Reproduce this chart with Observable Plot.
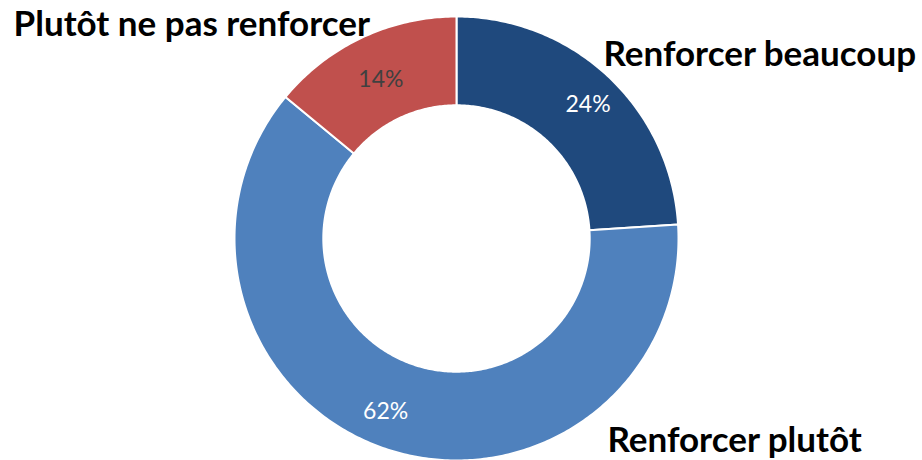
<!DOCTYPE html>
<html>
<head>
<meta charset="utf-8">
<script src="https://cdn.jsdelivr.net/npm/d3@7"></script>
<script src="https://cdn.jsdelivr.net/npm/@observablehq/plot@0.6"></script>
<style>
  html, body { margin: 0; padding: 0; background: #fff; }
  #chart svg { display: block; }
</style>
</head>
<body>
<div id="chart"></div>
<script>
// ---- data ----
const categories = ["Renforcer beaucoup", "Renforcer plutôt", "Plutôt ne pas renforcer"];
const shares = [24, 62, 14];
const pctLabels = ["24%", "62%", "14%"];
const colors = ["#1F497D", "#4F81BD", "#C0504D"];
const pctColors = ["#ffffff", "#ffffff", "#404040"];
// category label anchor positions (in radius units, relative to centre)
const labelX = [0.662, 0.680, -1.995];
const labelY = [0.826, -0.910, 0.964];
// small pixel nudges of the percentage labels
const pctDx = [10, -16, 0];
const pctDy = [-4, 4, 2];

// ---- layout ----
const W = 922, H = 460;
const CX = 456, CY = 238, R = 222;
const INNER = 0.60;

// ---- geometry built from data ----
const total = d3.sum(shares);
const pts = [];
const mids = [];
let acc = 0;
categories.forEach((cat, i) => {
  const a0 = acc / total * 2 * Math.PI;
  acc += shares[i];
  const a1 = acc / total * 2 * Math.PI;
  const n = Math.max(8, Math.round((a1 - a0) * 80));
  const ring = [];
  for (let k = 0; k <= n; k++) {
    const a = a0 + (a1 - a0) * k / n;
    ring.push({cat, x: Math.sin(a), y: Math.cos(a)});
  }
  for (let k = n; k >= 0; k--) {
    const a = a0 + (a1 - a0) * k / n;
    ring.push({cat, x: INNER * Math.sin(a), y: INNER * Math.cos(a)});
  }
  ring.push({...ring[0]});
  pts.push(...ring);
  const am = (a0 + a1) / 2, rm = (1 + INNER) / 2;
  mids.push({cat, label: pctLabels[i], color: pctColors[i],
    x: rm * Math.sin(am) + pctDx[i] / R, y: rm * Math.cos(am) - pctDy[i] / R});
});
const catLabels = categories.map((c, i) => ({cat: c, x: labelX[i], y: labelY[i]}));

const chart = Plot.plot({
  width: W,
  height: H,
  marginLeft: CX - R,
  marginRight: W - (CX + R),
  marginTop: CY - R,
  marginBottom: H - (CY + R),
  x: {domain: [-1, 1], axis: null},
  y: {domain: [-1, 1], axis: null},
  color: {domain: categories, range: colors},
  style: {fontFamily: "Lato, sans-serif", background: "#fff"},
  marks: [
    Plot.line(pts, {x: "x", y: "y", z: "cat", fill: "cat", stroke: "#ffffff", strokeWidth: 2, curve: "linear", strokeLinejoin: "round"}),
    Plot.text(mids, {x: "x", y: "y", text: "label", fill: "color", fontSize: 23, textAnchor: "middle", lineAnchor: "middle"}),
    Plot.text(catLabels, {x: "x", y: "y", text: "cat", fill: "#000", fontSize: 35, fontWeight: "bold", textAnchor: "start", lineAnchor: "middle"})
  ]
});
document.getElementById("chart").appendChild(chart);
</script>
</body>
</html>
